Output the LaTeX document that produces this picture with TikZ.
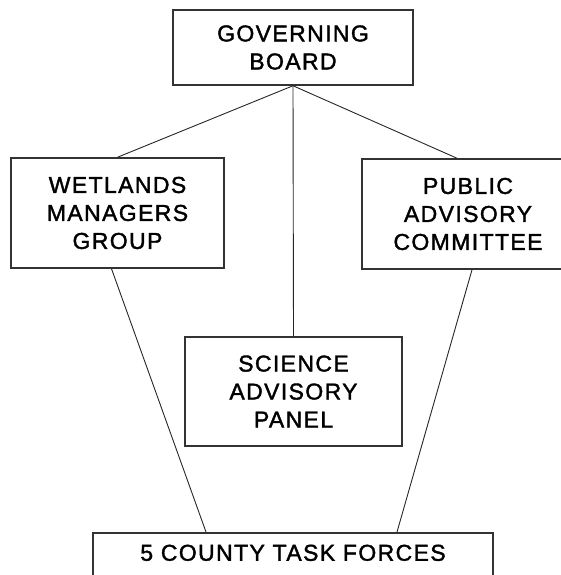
\documentclass[tikz,border=0pt]{standalone}
\usepackage{fontspec}
\setmainfont{Liberation Sans}
\newfontfamily\chartfont{Liberation Sans}[LetterSpace=6, FakeBold=1.6]
\usepackage{tikz}

\begin{document}
\begin{tikzpicture}[y=-1pt, x=1pt,
	box/.style={draw=black!80, line width=1.5pt, inner sep=0pt, align=center,
		font=\chartfont\fontsize{23}{28}\selectfont},
	link/.style={draw=black!85, line width=0.9pt}]
	\useasboundingbox (0,0) rectangle (561,575);
	\clip (0,0) rectangle (561,575);
	\node[box, minimum width=240, minimum height=75] (board) at (293,47.5) {GOVERNING\\BOARD};
	\node[box, minimum width=213, minimum height=110] (wetlands) at (117.5,213) {WETLANDS\\MANAGERS\\GROUP};
	\node[box, minimum width=212, minimum height=110] (public) at (468,214) {PUBLIC\\ADVISORY\\COMMITTEE};
	\node[box, minimum width=217, minimum height=109] (science) at (293.5,391.5) {SCIENCE\\ADVISORY\\PANEL};
	\node[box, minimum width=400, text height=28, text depth=30, anchor=north] (forces) at (293,532) {5 COUNTY TASK FORCES};
	\draw[link] (board.south) -- (wetlands.north);
	\draw[link] (board.south) -- ([xshift=-11]public.north);
	\draw[link] (board.south) -- (science.north);
	\draw[link] ([xshift=-6]wetlands.south) -- ([xshift=-87]forces.north);
	\draw[link] ([xshift=4]public.south) -- ([xshift=104]forces.north);
\end{tikzpicture}
\end{document}
